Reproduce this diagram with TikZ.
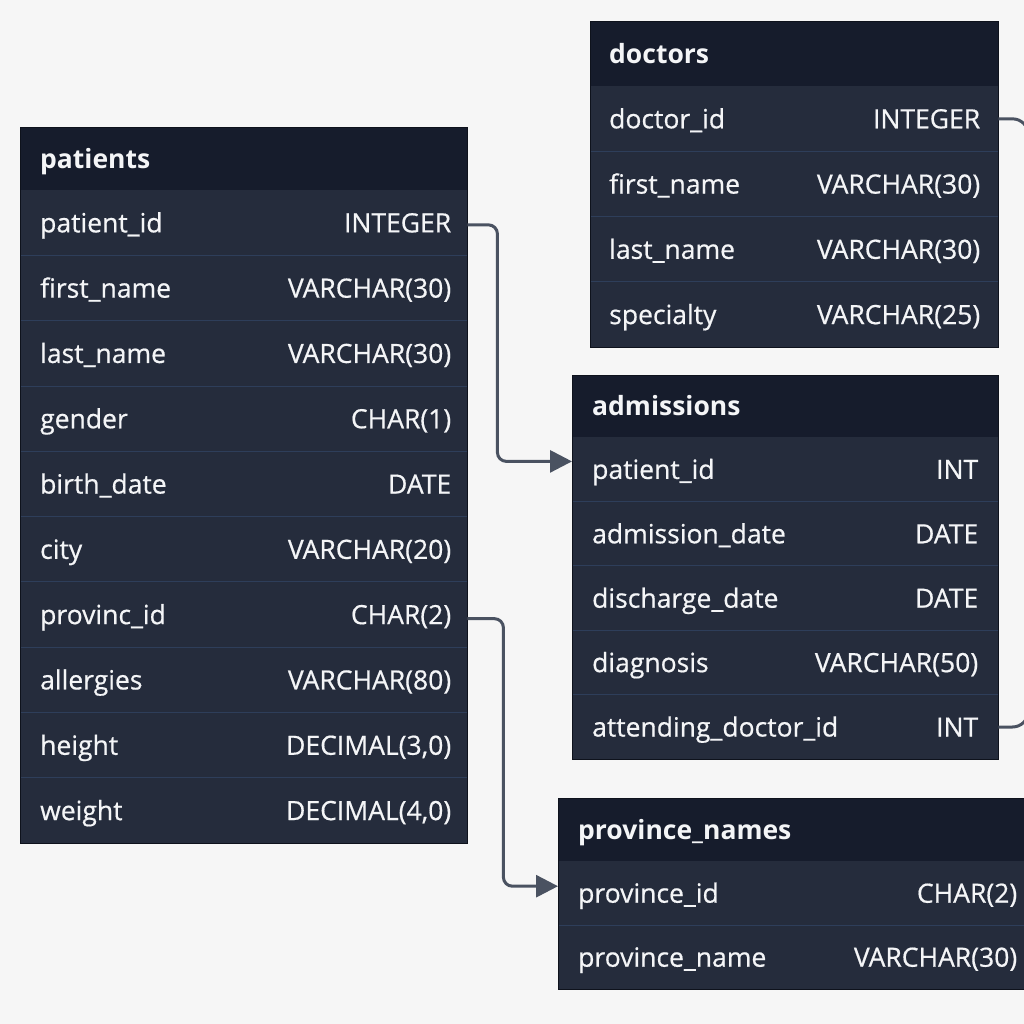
\documentclass[tikz,border=0pt]{standalone}
\usepackage{fontspec}
\usetikzlibrary{arrows.meta}
\newfontfamily\tblfont[UprightFeatures={FakeBold=0.6}]{Open Sans}
\newcommand\fieldfont{\tblfont\fontsize{26.5}{30}\selectfont}

\definecolor{pagecol}{HTML}{F6F6F6}
\definecolor{headcol}{HTML}{161C2C}
\definecolor{rowcol}{HTML}{252C3C}
\definecolor{sepcol}{HTML}{2E3E5A}
\definecolor{edgecol}{HTML}{0E121C}
\definecolor{linkcol}{HTML}{4A5261}
\definecolor{textcol}{HTML}{F4F5F7}

\tikzset{
  tblhead/.style={fill=headcol, anchor=north west, inner sep=0pt, minimum height=62pt},
  tblrow/.style={fill=rowcol, anchor=north west, inner sep=0pt},
  tblsep/.style={draw=sepcol, line width=0.8pt},
  tbledge/.style={draw=edgecol, line width=1pt},
  headname/.style={anchor=base west, inner sep=0pt, text=textcol, font=\fieldfont\bfseries},
  fieldname/.style={anchor=base west, inner sep=0pt, text=textcol, font=\fieldfont},
  fieldtype/.style={anchor=base east, inner sep=0pt, text=textcol, font=\fieldfont},
  link/.style={draw=linkcol, line width=3pt, rounded corners=9pt},
  linktip/.style={-{Triangle[length=22pt,width=22pt]}}
}

\begin{document}
\begin{tikzpicture}[x=1pt,y=1pt,yscale=-1]
\clip (0,0) rectangle (1024,1024);
\fill[pagecol] (0,0) rectangle (1024,1024);

% patients
\node[tblhead, minimum width=447pt] (patients) at (20,128) {};
\node[headname] at ([xshift=20pt,yshift=9.5pt]patients.west) {patients};
\foreach \n/\t [count=\i] in {patient\_id/INTEGER, first\_name/VARCHAR(30), last\_name/VARCHAR(30), gender/CHAR(1), birth\_date/DATE, city/VARCHAR(20), provinc\_id/CHAR(2), allergies/VARCHAR(80), height/{DECIMAL(3,0)}, weight/{DECIMAL(4,0)}}{
  \node[tblrow, minimum width=447pt, minimum height=65.3pt] (p\i) at (20,{190+(\i-1)*65.3}) {};
  \ifnum\i>1 \draw[tblsep] (p\i.north west) -- (p\i.north east); \fi
  \node[fieldname] at ([xshift=20pt,yshift=9.5pt]p\i.west) {\n};
  \node[fieldtype] at ([xshift=-16pt,yshift=9.5pt]p\i.east) {\t};
}
\draw[tbledge] (patients.north west) rectangle (p10.south east);

% doctors
\node[tblhead, minimum width=408pt, minimum height=64pt] (doctors) at (590,22) {};
\node[headname] at ([xshift=19pt,yshift=9.5pt]doctors.west) {doctors};
\foreach \n/\t [count=\i] in {doctor\_id/INTEGER, first\_name/VARCHAR(30), last\_name/VARCHAR(30), specialty/VARCHAR(25)}{
  \node[tblrow, minimum width=408pt, minimum height=65.25pt] (d\i) at (590,{86+(\i-1)*65.25}) {};
  \ifnum\i>1 \draw[tblsep] (d\i.north west) -- (d\i.north east); \fi
  \node[fieldname] at ([xshift=19pt,yshift=9.5pt]d\i.west) {\n};
  \node[fieldtype] at ([xshift=-18pt,yshift=9.5pt]d\i.east) {\t};
}
\draw[tbledge] (doctors.north west) rectangle (d4.south east);

% admissions
\node[tblhead, minimum width=426pt] (admissions) at (572,375) {};
\node[headname] at ([xshift=20pt,yshift=9.5pt]admissions.west) {admissions};
\foreach \n/\t [count=\i] in {patient\_id/INT, admission\_date/DATE, discharge\_date/DATE, diagnosis/VARCHAR(50), attending\_doctor\_id/INT}{
  \node[tblrow, minimum width=426pt, minimum height=64.4pt] (a\i) at (572,{437+(\i-1)*64.4}) {};
  \ifnum\i>1 \draw[tblsep] (a\i.north west) -- (a\i.north east); \fi
  \node[fieldname] at ([xshift=20pt,yshift=9.5pt]a\i.west) {\n};
  \node[fieldtype] at ([xshift=-20pt,yshift=9.5pt]a\i.east) {\t};
}
\draw[tbledge] (admissions.north west) rectangle (a5.south east);

% province_names
\node[tblhead, minimum width=478pt, minimum height=63pt] (provinces) at (558,798) {};
\node[headname] at ([xshift=20pt,yshift=9.5pt]provinces.west) {province\_names};
\foreach \n/\t [count=\i] in {province\_id/CHAR(2), province\_name/VARCHAR(30)}{
  \node[tblrow, minimum width=478pt, minimum height=64pt] (r\i) at (558,{861+(\i-1)*64}) {};
  \ifnum\i>1 \draw[tblsep] (r\i.north west) -- (r\i.north east); \fi
  \node[fieldname] at ([xshift=20pt,yshift=9.5pt]r\i.west) {\n};
  \node[fieldtype] at ([xshift=-19pt,yshift=9.5pt]r\i.east) {\t};
}
\draw[tbledge] (provinces.north west) rectangle (r2.south east);

% links
\draw[link, linktip] ([yshift=2pt]p1.east) -- ++(30,0) |- ([yshift=-8pt]a1.west);
\draw[link, linktip] ([yshift=4pt]p7.east) -- ++(36,0) |- ([yshift=-7pt]r1.west);
\draw[link, rounded corners=16pt] (d1.east) -- ++(30,0) |- (a5.east);

\end{tikzpicture}
\end{document}
